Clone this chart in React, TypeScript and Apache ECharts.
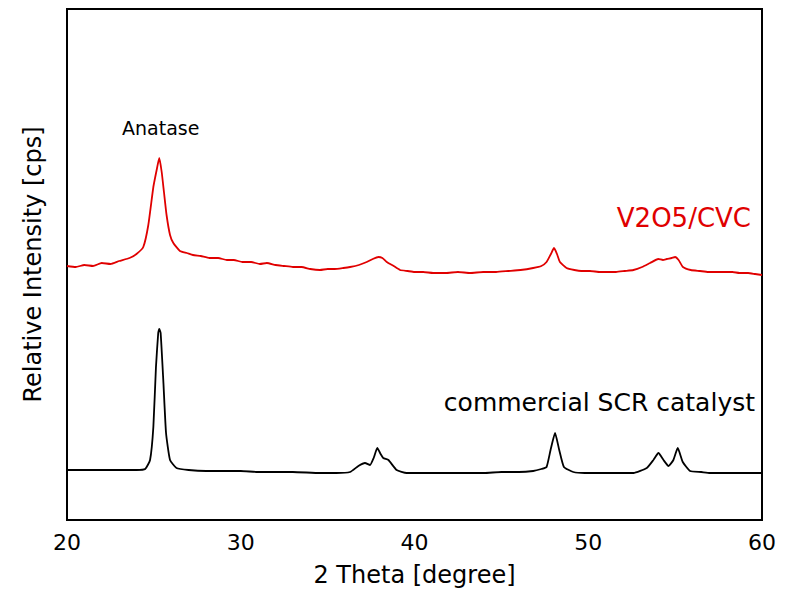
import React, { useEffect, useRef } from "react";
import * as echarts from "echarts";

// 2-theta (degree) and relative intensity (arbitrary cps units)
const redTheta = [20, 20.5, 21, 21.5, 22, 22.5, 23, 23.6, 24.0, 24.39, 24.68, 24.97, 25.16, 25.31, 25.45, 25.58, 25.73, 25.93, 26.12, 26.5, 26.9, 27.25, 27.7, 28.2, 28.7, 29.2, 29.6, 30.1, 30.6, 31.1, 31.5, 32.0, 32.5, 33.0, 33.5, 34.0, 34.56, 35.0, 35.4, 35.9, 36.29, 36.8, 37.25, 37.6, 37.92, 38.15, 38.4, 38.8, 39.17, 39.6, 40.0, 40.5, 41.07, 41.8, 42.5, 43.2, 43.95, 44.7, 45.4, 46.1, 46.83, 47.3, 47.6, 47.85, 48.03, 48.2, 48.37, 48.75, 49.2, 49.6, 50.1, 50.68, 51.1, 51.6, 52.1, 52.6, 53.1, 53.56, 54.03, 54.3, 54.52, 54.8, 55.0, 55.2, 55.45, 55.9, 56.43, 56.9, 57.3, 57.8, 58.3, 58.7, 59.2, 59.6, 60];
const redI = [254, 253, 255, 254, 257, 256, 259, 262, 266, 273, 295, 333, 350, 362, 348, 328, 305, 285, 277, 269, 267, 265, 264, 262, 262, 260, 260, 258, 258, 256, 257, 255, 254, 253, 253, 251, 250, 251, 251, 252, 253, 255, 258, 261, 263, 262, 258, 254, 250, 249, 248, 248, 247, 247, 248, 247, 248, 248, 249, 250, 252, 254, 258, 266, 272, 266, 258, 252, 250, 249, 249, 248, 248, 248, 249, 250, 253, 257, 261, 260, 261, 262, 263, 260, 253, 250, 249, 248, 248, 248, 248, 247, 247, 246, 245];

const blackTheta = [20, 21, 22, 23, 24.0, 24.5, 24.78, 24.97, 25.12, 25.25, 25.31, 25.39, 25.55, 25.7, 25.93, 26.3, 27, 28, 29, 30, 31, 32, 33, 34.56, 35.5, 36.29, 36.77, 37.15, 37.44, 37.65, 37.86, 38.05, 38.2, 38.5, 38.97, 39.55, 40.3, 41, 42, 43, 44, 45, 46, 46.83, 47.3, 47.6, 47.83, 48.09, 48.33, 48.6, 49.14, 49.8, 50.5, 51.5, 52.6, 53.37, 53.75, 54.04, 54.33, 54.62, 54.9, 55.15, 55.44, 55.86, 56.5, 57, 57.8, 58.5, 59.3, 60];
const blackI = [50, 50, 50, 50, 50, 51, 60, 93, 153, 187, 191, 187, 137, 87, 60, 52, 50, 49, 49, 49, 48, 48, 48, 47, 47, 48, 54, 57, 55, 62, 72, 66, 62, 60, 50, 47, 47, 47, 47, 47, 47, 48, 48, 49, 51, 53, 70, 87, 70, 53, 48, 47, 47, 47, 47, 52, 60, 67, 60, 54, 60, 72, 58, 49, 48, 47, 47, 47, 47, 47];

const xTicks = [20, 30, 40, 50, 60];
const seriesNames = ["V2O5/CVC", "commercial SCR catalyst"];

function pairs(xs: number[], ys: number[]) {
  return xs.map((x, i) => [x, ys[i]]);
}

export default function App() {
  const ref = useRef<HTMLDivElement>(null);
  useEffect(() => {
    if (!ref.current) return;
    const chart = echarts.init(ref.current, null, { renderer: "svg" });
    const font = "DejaVu Sans";
    chart.setOption({
      animation: false,
      backgroundColor: "#ffffff",
      textStyle: { fontFamily: font },
      grid: {
        left: 67,
        right: 32,
        top: 9,
        bottom: 79,
        show: true,
        borderColor: "#000",
        borderWidth: 2,
        backgroundColor: "transparent",
      },
      xAxis: {
        type: "value",
        min: xTicks[0],
        max: xTicks[xTicks.length - 1],
        interval: 10,
        name: "2 Theta [degree]",
        nameLocation: "middle",
        nameGap: 43,
        nameTextStyle: { fontSize: 24, color: "#000", fontFamily: font },
        axisLine: { show: true, lineStyle: { color: "#000", width: 2 } },
        axisTick: { show: false },
        splitLine: { show: false },
        axisLabel: { fontSize: 22, color: "#000", margin: 11, fontFamily: font },
      },
      yAxis: {
        type: "value",
        min: 0,
        max: 511,
        name: "Relative Intensity [cps]",
        nameLocation: "middle",
        nameGap: 22,
        nameTextStyle: { fontSize: 24, color: "#000", fontFamily: font },
        axisLine: { show: true, lineStyle: { color: "#000", width: 2 } },
        axisTick: { show: false },
        axisLabel: { show: false },
        splitLine: { show: false },
      },
      series: [
        {
          name: seriesNames[0],
          type: "line",
          data: pairs(redTheta, redI),
          showSymbol: false,
          lineStyle: { color: "#e00000", width: 1.8 },
          smooth: 0.15,
        },
        {
          name: seriesNames[1],
          type: "line",
          data: pairs(blackTheta, blackI),
          showSymbol: false,
          lineStyle: { color: "#000", width: 1.8 },
          smooth: 0.15,
        },
      ],
      graphic: [
        {
          type: "text",
          left: 122,
          top: 118,
          style: { text: "Anatase", fontSize: 19, fill: "#000", fontFamily: font },
        },
        {
          type: "text",
          right: 43,
          top: 205,
          style: { text: seriesNames[0], fontSize: 26, fill: "#e00000", fontFamily: font },
        },
        {
          type: "text",
          right: 39,
          top: 390,
          style: { text: seriesNames[1], fontSize: 25, fill: "#000", fontFamily: font },
        },
      ],
    });
    return () => chart.dispose();
  }, []);
  return <div ref={ref} style={{ width: 794, height: 599, position: "absolute", left: 0, top: 0 }} />;
}
